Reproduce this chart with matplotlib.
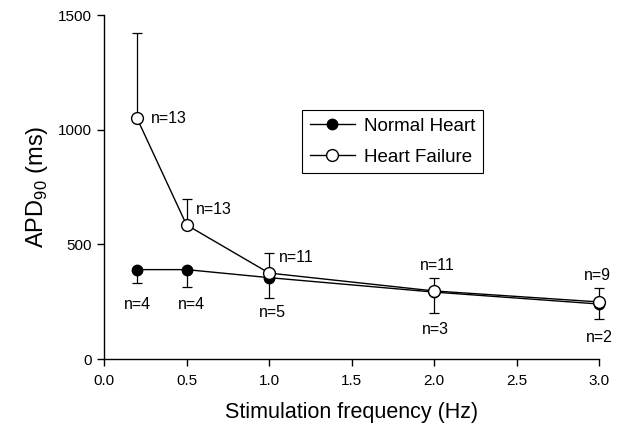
import matplotlib
matplotlib.use("Agg")
import matplotlib.pyplot as plt
from matplotlib.lines import Line2D

plt.rcParams['font.family'] = ['Liberation Sans', 'DejaVu Sans']
plt.rcParams['mathtext.fontset'] = 'custom'
plt.rcParams['mathtext.rm'] = 'Liberation Sans'

# data
freq = [0.2, 0.5, 1.0, 2.0, 3.0]
normal_mean = [390, 390, 355, 292, 240]
normal_err_low = [58, 76, 89, 92, 65]
hf_mean = [1050, 585, 375, 297, 249]
hf_err_up = [370, 115, 87, 56, 61]

normal_n = ['n=4', 'n=4', 'n=5', 'n=3', 'n=2']
normal_n_pos = [(0.2, 240), (0.53, 240), (1.02, 205), (2.01, 127), (3.0, 96)]
hf_n = ['n=13', 'n=13', 'n=11', 'n=11', 'n=9']
hf_n_pos = [(0.285, 1047), (0.559, 650), (1.057, 441), (2.02, 410), (2.99, 366)]
hf_n_ha = ['left', 'left', 'left', 'center', 'center']

fig = plt.figure(figsize=(6.19, 4.29), dpi=100)
ax = fig.add_axes([0.168, 0.163, 0.80, 0.802])

zeros = [0] * len(freq)
for mean, err, mfc, ms, z in [(normal_mean, [normal_err_low, zeros], 'black', 7.5, 2),
                              (hf_mean, [zeros, hf_err_up], 'white', 8.5, 3)]:
    _, caps, bars = ax.errorbar(freq, mean, yerr=err, fmt='-o', color='black',
                                mfc=mfc, mec='black', ms=ms, lw=1.0, elinewidth=0.9,
                                capsize=3.5, capthick=0.9, zorder=z)
    for c in caps:
        c.set_clip_on(False)
    for b in bars:
        b.set_clip_on(False)
for line in ax.lines:
    line.set_clip_on(False)

for txt, (x, y) in zip(normal_n, normal_n_pos):
    ax.text(x, y, txt, ha='center', va='center', fontsize=11.5, clip_on=False)
for txt, (x, y), ha in zip(hf_n, hf_n_pos, hf_n_ha):
    ax.text(x, y, txt, ha=ha, va='center', fontsize=11.5, clip_on=False)

ax.set_xlim(0, 3.0)
ax.set_ylim(0, 1500)
ax.set_xticks([0.0, 0.5, 1.0, 1.5, 2.0, 2.5, 3.0])
ax.set_xticklabels(['0.0', '0.5', '1.0', '1.5', '2.0', '2.5', '3.0'])
ax.set_yticks([0, 500, 1000, 1500])
ax.tick_params(labelsize=11, length=5, width=1.0, direction='out')
ax.tick_params(axis='x', pad=6)
ax.spines['top'].set_visible(False)
ax.spines['right'].set_visible(False)
ax.spines['left'].set_linewidth(1.0)
ax.spines['bottom'].set_linewidth(1.0)

ax.set_xlabel('Stimulation frequency (Hz)', fontsize=15.5, labelpad=10)
ax.set_ylabel(r'APD$_{\mathregular{90}}$ (ms)', fontsize=17, labelpad=6)

handles = [Line2D([], [], color='black', lw=1.0, marker='o', mfc='black', mec='black', ms=7.5),
           Line2D([], [], color='black', lw=1.0, marker='o', mfc='white', mec='black', ms=8.5)]
leg = ax.legend(handles, ['Normal Heart', 'Heart Failure'], loc='upper left',
                bbox_to_anchor=(0.40, 0.724), borderaxespad=0,
                fontsize=13.5, handlelength=2.4, handletextpad=0.5, fancybox=False,
                framealpha=1, edgecolor='black', borderpad=0.4, labelspacing=0.75)
leg.get_frame().set_linewidth(0.8)

fig.savefig('out.png', dpi=100)
